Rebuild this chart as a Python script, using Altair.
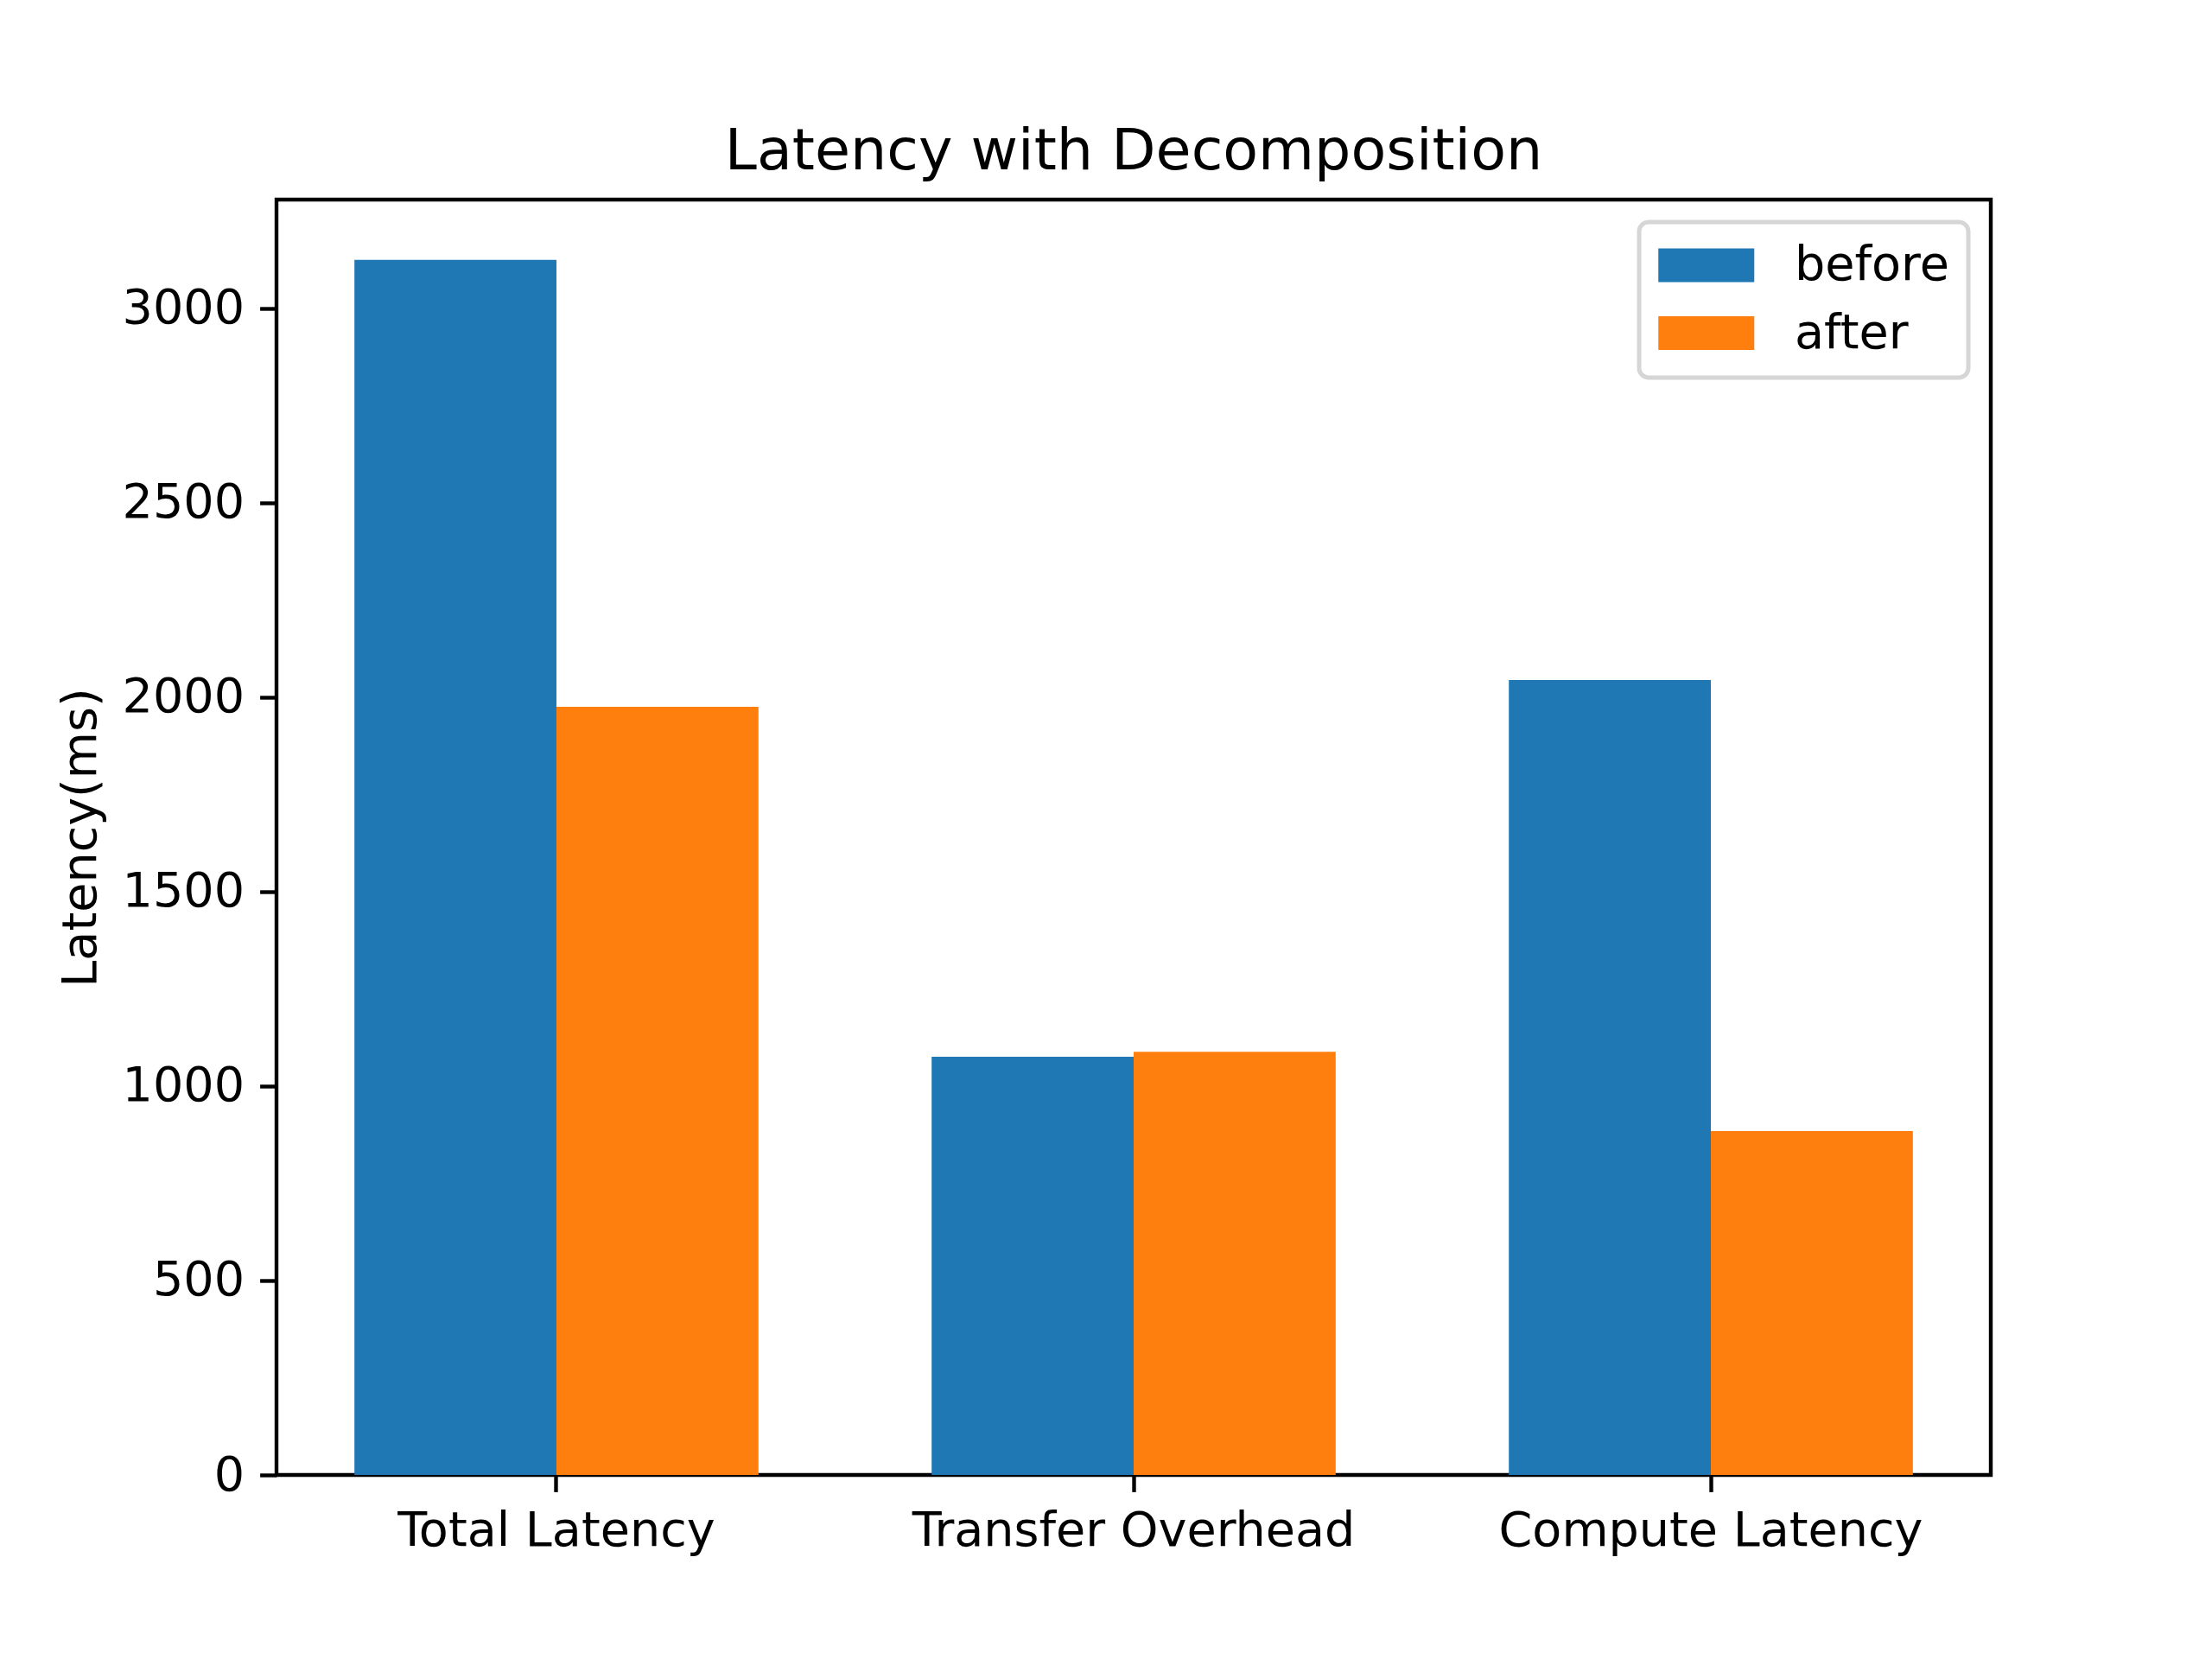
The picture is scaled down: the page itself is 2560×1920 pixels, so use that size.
import altair as alt
import pandas as pd

categories = ["Total Latency", "Transfer Overhead", "Compute Latency"]
before = [3124, 1075, 2044]
after = [1975, 1088, 884]
series = ["before", "after"]
colors = ["#1f77b4", "#ff7f0e"]
y_ticks = [0, 500, 1000, 1500, 2000, 2500, 3000]

rows = []
for c, b, a in zip(categories, before, after):
    rows.append({"category": c, "series": "before", "value": b})
    rows.append({"category": c, "series": "after", "value": a})
df = pd.DataFrame(rows)

FONT = "DejaVu Sans"
FS = 55.6

chart = alt.Chart(df).mark_bar().encode(
    x=alt.X("category:N", sort=categories, title=None,
            scale=alt.Scale(paddingInner=0.3, paddingOuter=0.135),
            axis=alt.Axis(labelAngle=0, domain=False, tickSize=19.4, tickWidth=4.4,
                          tickColor="black", labelPadding=18, labelFontSize=FS,
                          labelFont=FONT, labelColor="black", grid=False, labelLimit=0)),
    xOffset=alt.XOffset("series:N", sort=series, scale=alt.Scale(paddingInner=0, paddingOuter=0)),
    y=alt.Y("value:Q", title="Latency(ms)",
            scale=alt.Scale(domain=[0, 3279], nice=False, zero=True),
            axis=alt.Axis(values=y_ticks, format="d", domain=False, tickSize=19.4, tickWidth=4.4,
                          tickColor="black", labelPadding=18, labelFontSize=FS,
                          labelFont=FONT, labelColor="black", grid=False, labelLimit=0,
                          titleFont=FONT, titleFontSize=FS, titleFontWeight="normal",
                          titleColor="black", titlePadding=19)),
    color=alt.Color("series:N", sort=series,
                    scale=alt.Scale(domain=series, range=colors),
                    legend=alt.Legend(title=None, orient="none", legendX=1577, legendY=26,
                                      symbolType="M-1,-0.7L3,-0.7L3,0.7L-1,0.7Z",
                                      symbolSize=3080, symbolStrokeWidth=0,
                                      symbolOpacity=1, labelLimit=0,
                                      labelFont=FONT, labelFontSize=FS, labelColor="black",
                                      labelOffset=102, rowPadding=21.5,
                                      padding=22, fillColor="white",
                                      strokeColor="#d6d6d6", cornerRadius=11)),
).properties(
    width=1984,
    height=1476,
    title=alt.TitleParams("Latency with Decomposition", font=FONT, fontSize=66.7,
                          fontWeight="normal", color="black", anchor="middle",
                          baseline="alphabetic", offset=-32),
    autosize=alt.AutoSizeParams(type="none"),
    padding={"left": 320, "top": 231, "right": 256, "bottom": 211},
).configure(
    background="white",
    view=alt.ViewConfig(stroke="black", strokeWidth=4.4),
    legend=alt.LegendConfig(strokeWidth=5),
)

chart.save("out.html", embed_options={"renderer": "svg", "actions": False})
